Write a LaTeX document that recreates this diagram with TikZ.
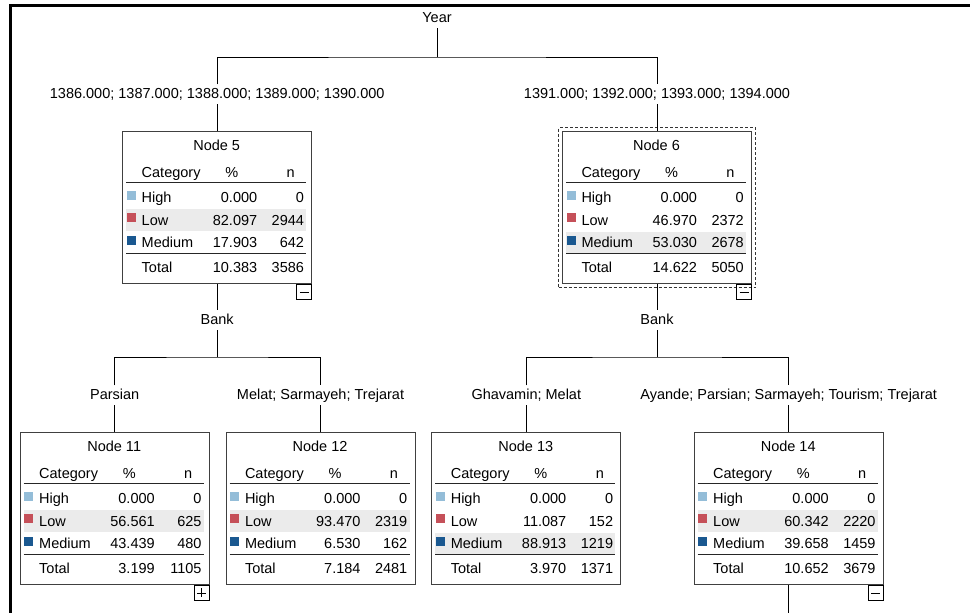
\documentclass[tikz,border=0pt]{standalone}
\usepackage{fontspec}
\setmainfont{Liberation Sans}
\usetikzlibrary{calc,fit}
\definecolor{hicol}{HTML}{94BDD8}
\definecolor{locol}{HTML}{C55059}
\definecolor{mecol}{HTML}{1A5890}
\definecolor{bandcol}{HTML}{EBEBEB}
\definecolor{boxline}{HTML}{404040}
\tikzset{
  treebox/.style={draw=boxline, line width=1pt, minimum width=189pt, minimum height=152pt, inner sep=0pt, anchor=north},
  lbl/.style={inner sep=3pt, text height=10.5pt, text depth=3pt, anchor=base, font=\fontsize{14.5}{16}\selectfont},
  txt/.style={inner sep=0pt, font=\fontsize{14.5}{16}\selectfont},
  conn/.style={line width=1pt, black},
  rulel/.style={line width=1.2pt, black!85},
  swatch/.style={inner sep=0pt, minimum size=9pt},
  togglebox/.style={draw=black, line width=0.9pt, inner sep=0pt, minimum width=15pt, minimum height=15pt, anchor=north east},
  selbox/.style={draw=black!80, line width=1pt, dash pattern=on 3pt off 2pt, inner sep=3.5pt},
}
% name, x-center, top, title, highlighted row
\newcommand{\mybox}[5]{%
  \node[treebox] (#1) at (#2,#3) {};
  \begin{scope}[shift={(#1.north west)}]
    \fill[bandcol] (4,{56+22.3*(#5-1)}) rectangle (184,{77.5+22.3*(#5-1)});
    \node[txt, anchor=base] (#1-title) at (94.5,19.7) {#4};
    \node[txt, anchor=base west] (#1-hcat) at (19.3,46.4) {Category};
    \node[txt, anchor=base] (#1-hpct) at (109.5,46.4) {\%};
    \node[txt, anchor=base] (#1-hn) at (168.5,46.4) {n};
    \draw[rulel] (4,51.5) -- (184,51.5);
    \draw[rulel] (4,122.2) -- (184,122.2);
  \end{scope}}
% name, row index, colour, label, percent, n
\newcommand{\myrow}[6]{%
  \begin{scope}[shift={(#1.north west)}]
    \node[swatch, fill=#3] (#1-sw#2) at (9,{64.5+22.35*(#2-1)}) {};
    \node[txt, anchor=base west] (#1-lab#2) at (19.3,{71.7+22.35*(#2-1)}) {#4};
    \node[txt, anchor=base east] (#1-pct#2) at (135.2,{71.7+22.35*(#2-1)}) {#5};
    \node[txt, anchor=base east] (#1-n#2) at (182,{71.7+22.35*(#2-1)}) {#6};
  \end{scope}}
\newcommand{\mytotal}[3]{%
  \begin{scope}[shift={(#1.north west)}]
    \node[txt, anchor=base west] (#1-tlab) at (19.3,141.7) {Total};
    \node[txt, anchor=base east] (#1-tpct) at (135.2,141.7) {#2};
    \node[txt, anchor=base east] (#1-tn) at (182,141.7) {#3};
  \end{scope}}
\newcommand{\myminus}[1]{%
  \node[togglebox] (#1-tg) at (#1.south east) {};
  \draw[line width=0.9pt] ($(#1-tg.center)+(-4.5,0)$) -- ($(#1-tg.center)+(4.5,0)$);}
\newcommand{\myplus}[1]{%
  \node[togglebox] (#1-tg) at (#1.south east) {};
  \draw[line width=0.9pt] ($(#1-tg.center)+(-4.5,0)$) -- ($(#1-tg.center)+(4.5,0)$);
  \draw[line width=0.9pt] ($(#1-tg.center)+(0,-4.5)$) -- ($(#1-tg.center)+(0,4.5)$);}

\begin{document}
\begin{tikzpicture}[x=1pt,y=-1pt]
\useasboundingbox (0,0) rectangle (970,613);
\fill[white] (0,0) rectangle (970,613);
% frame
\draw[line width=3pt] (10,613) -- (10,5) -- (970,5);

% labels
\node[lbl] (year) at (437,22) {Year};
\node[lbl] (y1) at (217.2,98) {1386.000; 1387.000; 1388.000; 1389.000; 1390.000};
\node[lbl] (y2) at (657,98) {1391.000; 1392.000; 1393.000; 1394.000};
\node[lbl] (b1) at (217.2,324) {Bank};
\node[lbl] (b2) at (657,324) {Bank};
\node[lbl] (p1) at (114.7,399) {Parsian};
\node[lbl] (p2) at (320.5,399) {Melat; Sarmayeh; Trejarat};
\node[lbl] (p3) at (526.3,399) {Ghavamin; Melat};
\node[lbl] (p4) at (788.7,399) {Ayande; Parsian; Sarmayeh; Tourism; Trejarat};

% node 5
\mybox{n5}{217.2}{131}{Node 5}{2}
\myrow{n5}{1}{hicol}{High}{0.000}{0}
\myrow{n5}{2}{locol}{Low}{82.097}{2944}
\myrow{n5}{3}{mecol}{Medium}{17.903}{642}
\mytotal{n5}{10.383}{3586}
\myminus{n5}
% node 6
\mybox{n6}{657}{131}{Node 6}{3}
\myrow{n6}{1}{hicol}{High}{0.000}{0}
\myrow{n6}{2}{locol}{Low}{46.970}{2372}
\myrow{n6}{3}{mecol}{Medium}{53.030}{2678}
\mytotal{n6}{14.622}{5050}
\node[selbox, fit=(n6)] (n6sel) {};
\myminus{n6}
% node 11
\mybox{n11}{114.7}{432}{Node 11}{2}
\myrow{n11}{1}{hicol}{High}{0.000}{0}
\myrow{n11}{2}{locol}{Low}{56.561}{625}
\myrow{n11}{3}{mecol}{Medium}{43.439}{480}
\mytotal{n11}{3.199}{1105}
\myplus{n11}
% node 12
\mybox{n12}{320.5}{432}{Node 12}{2}
\myrow{n12}{1}{hicol}{High}{0.000}{0}
\myrow{n12}{2}{locol}{Low}{93.470}{2319}
\myrow{n12}{3}{mecol}{Medium}{6.530}{162}
\mytotal{n12}{7.184}{2481}
% node 13
\mybox{n13}{526.3}{432}{Node 13}{3}
\myrow{n13}{1}{hicol}{High}{0.000}{0}
\myrow{n13}{2}{locol}{Low}{11.087}{152}
\myrow{n13}{3}{mecol}{Medium}{88.913}{1219}
\mytotal{n13}{3.970}{1371}
% node 14
\mybox{n14}{788.7}{432}{Node 14}{2}
\myrow{n14}{1}{hicol}{High}{0.000}{0}
\myrow{n14}{2}{locol}{Low}{60.342}{2220}
\myrow{n14}{3}{mecol}{Medium}{39.658}{1459}
\mytotal{n14}{10.652}{3679}
\myminus{n14}

% connectors
\coordinate (j0) at (437,57);
\coordinate (j1) at (217.2,357);
\coordinate (j2) at (657,357);
\coordinate (e14) at (788.7,613);
\draw[conn] (year.south) -- (j0);
\draw[conn] (y1.north) |- (j0) -| (y2.north);
\draw[conn] (y1.south) -- (n5.north);
\draw[conn] (y2.south) -- (n6.north);
\draw[conn] (n5.south) -- (b1.north);
\draw[conn] (n6.south) -- (b2.north);
\draw[conn] (b1.south) -- (j1);
\draw[conn] (b2.south) -- (j2);
\draw[conn] (p1.north) |- (j1) -| (p2.north);
\draw[conn] (p3.north) |- (j2) -| (p4.north);
\draw[conn] (p1.south) -- (n11.north);
\draw[conn] (p2.south) -- (n12.north);
\draw[conn] (p3.south) -- (n13.north);
\draw[conn] (p4.south) -- (n14.north);
\draw[conn] (n14.south) -- (e14);
\end{tikzpicture}
\end{document}
